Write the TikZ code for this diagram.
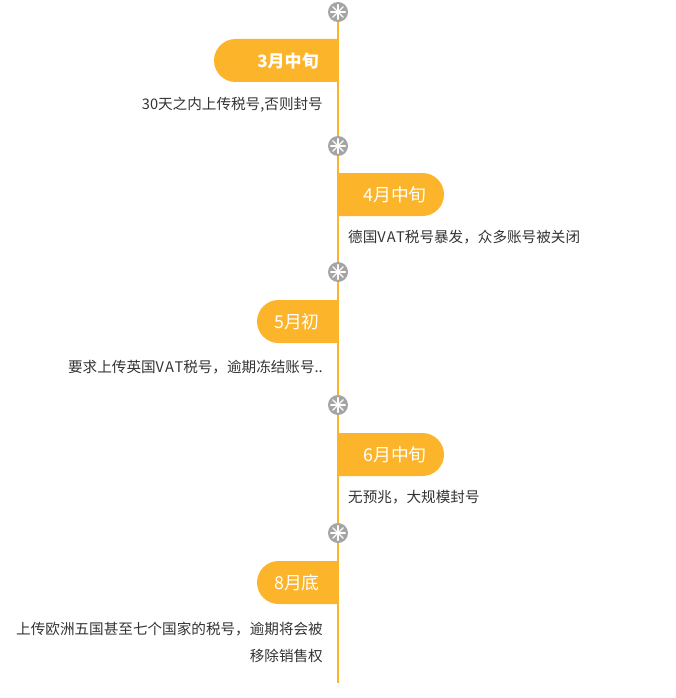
\documentclass[tikz,border=0pt]{standalone}
\usepackage{fontspec}
\setmainfont{Noto Sans CJK SC}
\definecolor{tlorange}{HTML}{FCB42B}
\definecolor{tlgray}{HTML}{A4A4A4}
\definecolor{tltext}{HTML}{333333}
\newcommand{\wlat}[1]{{\addfontfeature{LetterSpace=9}#1}}
\tikzset{
  x=1pt,y=1pt,
  tabl/.style={fill=tlorange,draw=none},
  tablabel/.style={text=white,font=\fontsize{17.8}{19}\selectfont,anchor=center,inner sep=0},
  bodyr/.style={text=tltext,font=\fontsize{14.6}{16}\selectfont,anchor=east,inner sep=0},
  bodyl/.style={text=tltext,font=\fontsize{14.6}{16}\selectfont,anchor=west,inner sep=0},
}
\newcommand{\sparkle}[2]{%
  \node[circle,fill=tlgray,minimum size=20pt,inner sep=0] (#1) at (338,#2) {};
  \foreach \a in {0,45,...,315}{\draw[white,line width=1.3pt,line cap=round] (#1.center) ++(\a:2.5) -- ++(\a:4.8);}
  \fill[white] (#1.center) circle (2.6);
}
\begin{document}
\begin{tikzpicture}
\useasboundingbox (0,0) rectangle (676,-698);
\coordinate (top) at (338,-12);
\coordinate (bot) at (338,-683);
\draw[tlorange,line width=2pt] (top) -- (bot);
% tabs
\fill[tabl] (338,-39) -- (235.5,-39) arc (90:270:21.5) -- (338,-82) -- cycle;
\node[tablabel,font=\fontsize{17}{18}\selectfont\bfseries] (t1) at (288,-61) {3月中旬};
\fill[tabl] (338,-173) -- (422.5,-173) arc (90:-90:21.5) -- (338,-216) -- cycle;
\node[tablabel] (t2) at (395,-195) {4月中旬};
\fill[tabl] (338,-300) -- (278.5,-300) arc (90:270:21.5) -- (338,-343) -- cycle;
\node[tablabel] (t3) at (297,-322) {5月初};
\fill[tabl] (338,-433) -- (422.5,-433) arc (90:-90:21.5) -- (338,-476) -- cycle;
\node[tablabel] (t4) at (395,-455) {6月中旬};
\fill[tabl] (338,-561) -- (278.5,-561) arc (90:270:21.5) -- (338,-604) -- cycle;
\node[tablabel] (t5) at (297,-583) {8月底};
% texts
\node[bodyr] (d1) at (323,-105) {30天之内上传税号,否则封号};
\node[bodyl] (d2) at (348,-237) {德国\wlat{VAT}税号暴发，众多账号被关闭};
\node[bodyr] (d3) at (323,-367) {要求上传英国\wlat{VAT}税号，逾期冻结账号..};
\node[bodyl] (d4) at (348,-497) {无预兆，大规模封号};
\node[bodyr] (d5) at (323,-629) {上传欧洲五国甚至七个国家的税号，逾期将会被};
\node[bodyr] (d6) at (323,-656) {移除销售权};
% sparkles
\sparkle{s1}{-12}
\sparkle{s2}{-146}
\sparkle{s3}{-272}
\sparkle{s4}{-405}
\sparkle{s5}{-533}
\end{tikzpicture}
\end{document}
